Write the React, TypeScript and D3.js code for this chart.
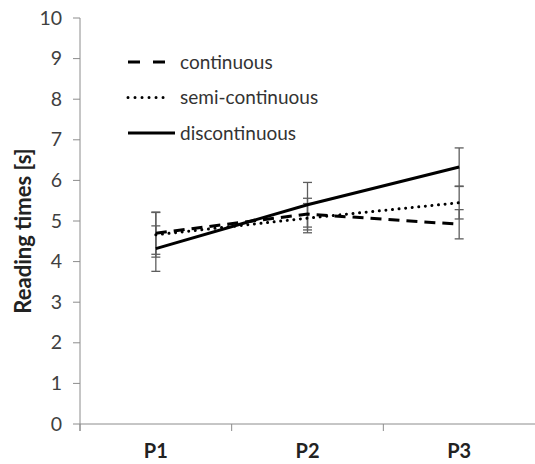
import React from 'react'
import * as d3 from 'd3'

const categories = ['P1', 'P2', 'P3']
const yTicks = [0, 1, 2, 3, 4, 5, 6, 7, 8, 9, 10]

const continuous = [4.70, 5.17, 4.92]
const continuousErr = [0.52, 0.39, 0.36]
const semiContinuous = [4.66, 5.07, 5.45]
const semiContinuousErr = [0.55, 0.36, 0.40]
const discontinuous = [4.32, 5.40, 6.33]
const discontinuousErr = [0.56, 0.55, 0.47]

const seriesNames = ['continuous', 'semi-continuous', 'discontinuous']

const W = 535
const H = 464
const font = 'Lato, "Open Sans", sans-serif'

const App = () => {
  const x = d3.scaleBand().domain(categories).range([80, 535]).padding(0)
  const y = d3.scaleLinear().domain([0, 10]).range([424, 18])
  const cx = (c) => x(c) + x.bandwidth() / 2

  const series = [
    {name: seriesNames[0], values: continuous, err: continuousErr, dash: '11,7', cap: 'butt', legendDash: '12,13'},
    {name: seriesNames[1], values: semiContinuous, err: semiContinuousErr, dash: '0.01,6.6', cap: 'round', legendDash: '0.01,7'},
    {name: seriesNames[2], values: discontinuous, err: discontinuousErr, dash: null, cap: 'butt', legendDash: null},
  ]

  const line = d3.line().x((d) => d[0]).y((d) => d[1])

  return (
    <svg width={W} height={H} style={{position: 'absolute', left: 0, top: 0, background: '#fff'}}>
      {/* axes */}
      <g stroke="#8c8c8c" strokeWidth={1}>
        <line x1={80} x2={80} y1={y(10)} y2={431} />
        <line x1={80} x2={535} y1={y(0)} y2={y(0)} />
        {yTicks.map((t) => (
          <line key={t} x1={73} x2={80} y1={y(t)} y2={y(t)} />
        ))}
        {categories.map((c) => (
          <line key={c} x1={x(c)} x2={x(c)} y1={y(0)} y2={431} />
        ))}
      </g>
      {yTicks.map((t) => (
        <text key={t} x={62} y={y(t) + 6.5} textAnchor="end" fontFamily={font} fontSize={19.5} fill="#404040">{t}</text>
      ))}
      {categories.map((c) => (
        <text key={c} x={cx(c)} y={458} textAnchor="middle" fontFamily={font} fontSize={20} fontWeight="bold" fill="#222">{c}</text>
      ))}
      <text transform={`translate(31, 231) rotate(-90)`} textAnchor="middle" fontFamily={font} fontSize={22} fontWeight="bold" fill="#222">Reading times [s]</text>

      {/* error bars */}
      <g stroke="#5e5e5e" strokeWidth={1.3}>
        {series.map((s) => s.values.map((v, i) => {
          const px = cx(categories[i])
          return (
            <g key={s.name + i}>
              <line x1={px} x2={px} y1={y(v - s.err[i])} y2={y(v + s.err[i])} />
              <line x1={px - 4.5} x2={px + 4.5} y1={y(v - s.err[i])} y2={y(v - s.err[i])} />
              <line x1={px - 4.5} x2={px + 4.5} y1={y(v + s.err[i])} y2={y(v + s.err[i])} />
            </g>
          )
        }))}
      </g>

      {/* series lines */}
      {series.map((s) => (
        <path
          key={s.name}
          d={line(s.values.map((v, i) => [cx(categories[i]), y(v)]))}
          fill="none"
          stroke="#000"
          strokeWidth={3}
          strokeDasharray={s.dash || undefined}
          strokeLinecap={s.cap}
        />
      ))}

      {/* legend */}
      {series.map((s, i) => {
        const ly = 62 + i * 35.5
        return (
          <g key={s.name}>
            <line x1={128} x2={s.dash ? 166 : 175} y1={ly} y2={ly} stroke="#000" strokeWidth={3}
              strokeDasharray={s.legendDash || undefined} strokeLinecap={s.cap} />
            <text x={180} y={ly + 6.5} fontFamily={font} fontSize={19} fill="#333">{s.name}</text>
          </g>
        )
      })}
    </svg>
  )
}

export default App
